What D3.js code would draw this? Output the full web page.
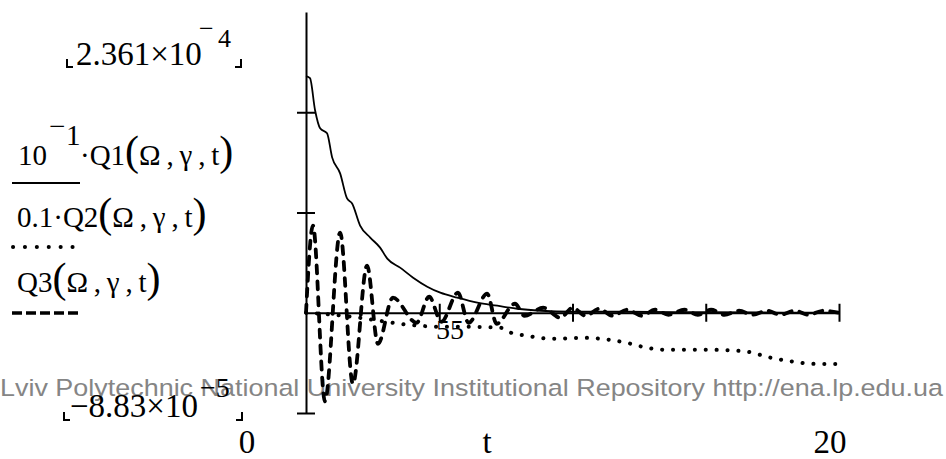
<!DOCTYPE html>
<html><head><meta charset="utf-8">
<script src="https://cdn.jsdelivr.net/npm/d3@7"></script>
<style>html,body{margin:0;padding:0;background:#fff;} svg{display:block;background:#fff;}</style>
</head><body>
<svg id="c" width="946" height="459"></svg>
<script>
// ---- data (y values in units of 1e-4) ----
const xDomain = [0, 20];
const yDomain = [-1, 3];
const xTicks = [5, 10, 15, 20];
const yTicks = [-1, 1, 2];
const yMaxLabel = "2.361×10";
const yMaxExp = "4";
const yMinLabel = "−8.83×10";
const yMinExp = "−5";
const xMinLabel = "0";
const xMaxLabel = "20";
const xName = "t";

// 10^-1 · Q1(Ω,γ,t)  (solid)
const q1T = [0, 0.15, 0.34, 0.53, 0.79, 0.98, 1.28, 1.54, 1.73, 2.03, 2.41, 2.78, 3.05, 3.53, 4.02, 4.55, 5.04, 5.68, 6.43, 7.18, 7.93, 8.8, 10, 12, 15, 20];
const q1V = [2.361, 2.34, 2.02, 1.84, 1.79, 1.55, 1.39, 1.14, 1.09, 0.87, 0.75, 0.65, 0.54, 0.45, 0.35, 0.26, 0.20, 0.15, 0.10, 0.07, 0.04, 0.02, 0.01, 0.01, 0.005, 0.0];

// 0.1 · Q2(Ω,γ,t)  (dotted)
const q2T = [0, 1, 2, 3, 3.5, 4.3, 5, 6, 7.3, 7.7, 8.3, 9.2, 10.4, 11.4, 12.2, 12.8, 13.6, 15.3, 16.6, 17.3, 18.1, 19.1, 20];
const q2V = [0, -0.02, -0.05, -0.09, -0.11, -0.13, -0.14, -0.14, -0.15, -0.20, -0.23, -0.26, -0.25, -0.27, -0.31, -0.35, -0.37, -0.37, -0.39, -0.44, -0.48, -0.51, -0.51];

// Q3(Ω,γ,t)  (dashed)
const q3T = [0, 0.26, 0.71, 1.28, 1.76, 2.29, 2.70, 3.26, 4.15, 4.62, 5.08, 5.70, 6.10, 6.80, 7.15, 7.84, 8.2, 8.9, 9.55, 10.0, 10.5, 11.0, 11.5, 12.05, 12.6, 13.1, 13.6, 14.2, 14.7, 15.2, 15.7, 16.25, 16.75, 17.3, 17.8, 18.35, 18.85, 19.4, 20];
const q3V = [0, 0.87, -0.883, 0.80, -0.71, 0.47, -0.31, 0.15, -0.10, 0.16, -0.09, 0.20, -0.10, 0.19, -0.11, 0.09, -0.03, 0.05, -0.05, 0.05, -0.03, 0.04, -0.03, 0.03, -0.03, 0.03, -0.02, 0.03, -0.02, 0.03, -0.02, 0.02, -0.02, 0.02, -0.02, 0.02, -0.02, 0.02, 0];

// ---- drawing ----
const svg = d3.select("#c");
const serif = "'Liberation Serif','Times New Roman',serif";
const x = d3.scaleLinear(xDomain, [306, 839]);
const y = d3.scaleLinear(yDomain, [413, 12]);

// watermark
svg.append("text")
  .attr("x", 0).attr("y", 396)
  .attr("font-family", "'Liberation Sans',Arial,sans-serif")
  .attr("font-size", 24.5).attr("fill", "#858585")
  .attr("textLength", 943).attr("lengthAdjust", "spacingAndGlyphs")
  .text("Lviv Polytechnic National University Institutional Repository http://ena.lp.edu.ua");

// axes
const gy = svg.append("g").attr("transform", `translate(${x(0)},0)`)
  .call(d3.axisLeft(y).tickValues(yTicks).tickFormat("").tickSizeOuter(0));
gy.selectAll(".tick line").attr("x1", 9).attr("x2", -9);
const gx = svg.append("g").attr("transform", `translate(0,${y(0)})`)
  .call(d3.axisBottom(x).tickValues(xTicks).tickFormat("").tickSizeOuter(0));
gx.selectAll(".tick line").attr("y1", -9).attr("y2", 9);
svg.selectAll(".domain, .tick line").attr("stroke", "#000").attr("stroke-width", 2);

const line = d3.line().x(d => x(d[0])).y(d => y(d[1])).curve(d3.curveMonotoneX);
const zip = (a, b) => a.map((v, i) => [v, b[i]]);

svg.append("path").datum(zip(q2T, q2V)).attr("d", line)
  .attr("fill", "none").attr("stroke", "#000").attr("stroke-width", 4)
  .attr("stroke-linecap", "round").attr("stroke-dasharray", "0.1 10.8");
svg.append("path").datum(zip(q3T, q3V)).attr("d", line)
  .attr("fill", "none").attr("stroke", "#000").attr("stroke-width", 3.8)
  .attr("stroke-linecap", "round").attr("stroke-dasharray", "8 8");
svg.append("path").datum(zip(q1T, q1V)).attr("d", line)
  .attr("fill", "none").attr("stroke", "#000").attr("stroke-width", 1.8);

// text helpers
function txt(s, px, py, size, anchor) {
  return svg.append("text").attr("x", px).attr("y", py)
    .attr("font-family", serif).attr("font-size", size)
    .attr("text-anchor", anchor || "start").attr("fill", "#000").text(s);
}
function corner(px, py, left) {
  const dx = left ? 6 : -6;
  svg.append("path").attr("d", `M${px},${py - 8}V${py}H${px + dx}`)
    .attr("fill", "none").attr("stroke", "#000").attr("stroke-width", 2);
}

// y-range labels
txt(yMaxLabel, 76, 65, 33);
txt("−", 199, 37, 26);
txt(yMaxExp, 218, 47, 26);
corner(67, 67, true); corner(241, 67, false);

txt(yMinLabel, 70, 417, 33);
txt(yMinExp, 200, 397, 28);
corner(64, 420, true); corner(242, 420, false);

// x-range labels
txt(xMinLabel, 247, 453, 33, "middle");
txt(xName, 487, 453, 33, "middle");
txt(xMaxLabel, 830, 453, 33, "middle");

// stray label
txt("55", 436, 339, 28);

// legend
function legendText(py, parts) {
  const t = svg.append("text").attr("y", py).attr("font-family", serif).attr("fill", "#000");
  parts.forEach(p => {
    const ts = t.append("tspan").attr("font-size", p.size || 29).text(p.s);
    if (p.x !== undefined) ts.attr("x", p.x);
    if (p.y !== undefined) ts.attr("y", p.y);
  });
}
legendText(165, [
  {s: "10", x: 18, y: 165},
  {s: "−", x: 49, y: 136},
  {s: "1", x: 66, y: 145},
  {s: "·Q1", x: 80, y: 165},
  {s: "(", size: 42},
  {s: "Ω\u2009,\u2009γ\u2009,\u2009t"},
  {s: ")", size: 42}
]);
legendText(227, [
  {s: "0.1·Q2", x: 17},
  {s: "(", size: 42},
  {s: "Ω\u2009,\u2009γ\u2009,\u2009t"},
  {s: ")", size: 42}
]);
legendText(292, [
  {s: "Q3", x: 17},
  {s: "(", size: 42},
  {s: "Ω\u2009,\u2009γ\u2009,\u2009t"},
  {s: ")", size: 42}
]);

svg.append("line").attr("x1", 12).attr("x2", 80).attr("y1", 183).attr("y2", 183)
  .attr("stroke", "#000").attr("stroke-width", 1.8);
svg.append("line").attr("x1", 13).attr("x2", 74).attr("y1", 247).attr("y2", 247)
  .attr("stroke", "#000").attr("stroke-width", 4).attr("stroke-linecap", "round")
  .attr("stroke-dasharray", "0.1 11.8");
svg.append("line").attr("x1", 12).attr("x2", 80).attr("y1", 313).attr("y2", 313)
  .attr("stroke", "#000").attr("stroke-width", 3.6).attr("stroke-dasharray", "10 4");
</script>
</body></html>
